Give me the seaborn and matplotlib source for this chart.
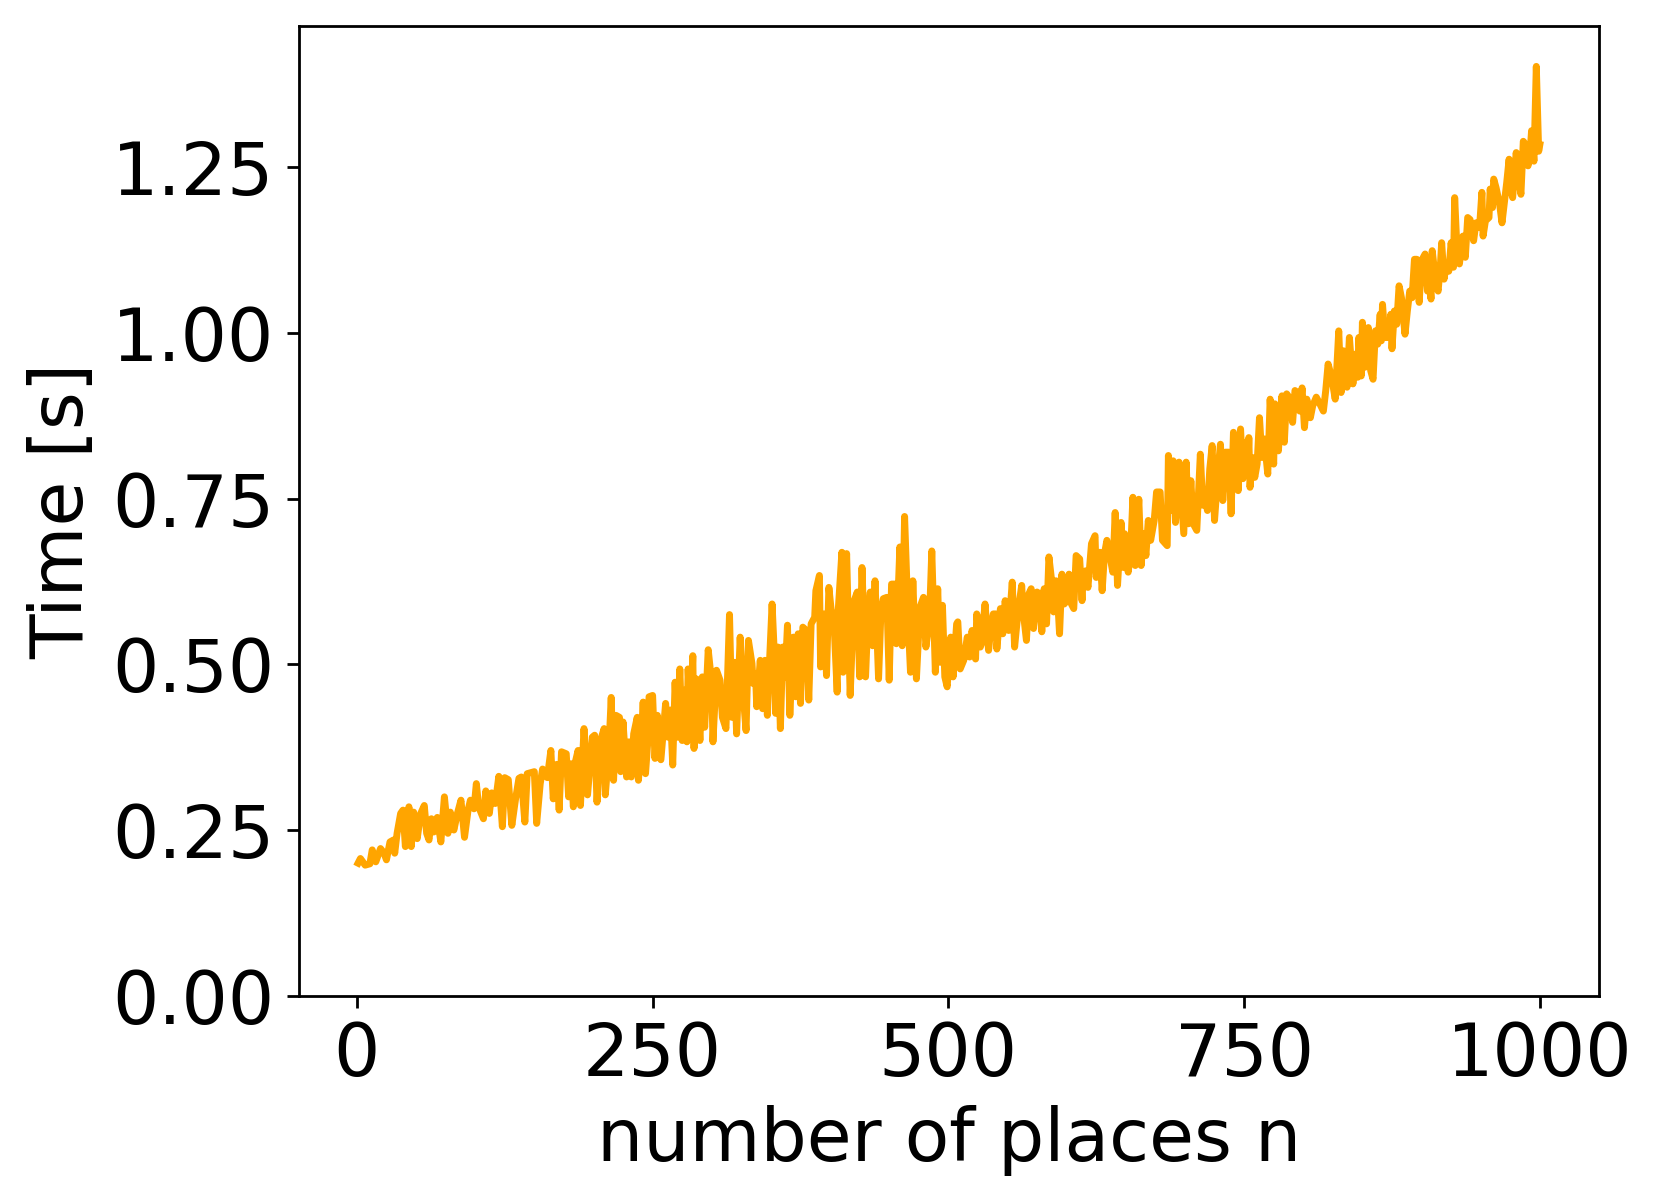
import matplotlib
matplotlib.use('Agg')
import matplotlib.pyplot as plt
import seaborn as sns
import pandas as pd

# values: number of places n and run time in seconds
n_places = [
    1, 3, 7, 11, 13, 16, 20, 23, 25, 28, 31, 32, 34, 37, 39, 41, 44, 46, 48, 51,
    54, 57, 59, 61, 63, 65, 68, 71, 74, 77, 79, 82, 85, 88, 91, 94, 96, 99, 101, 103,
    107, 109, 112, 114, 117, 120, 123, 125, 128, 131, 134, 137, 139, 142, 144, 150, 152, 155, 157, 161,
    164, 166, 169, 171, 173, 177, 179, 181, 183, 185, 187, 189, 192, 195, 199, 201, 203, 206, 209, 210,
    213, 215, 217, 219, 222, 223, 225, 228, 230, 232, 234, 237, 238, 240, 242, 244, 246, 247, 250, 252,
    254, 257, 261, 263, 265, 267, 269, 271, 273, 275, 277, 279, 280, 282, 284, 285, 287, 290, 292, 294,
    297, 300, 301, 304, 307, 309, 312, 315, 317, 319, 321, 324, 326, 329, 331, 334, 335, 337, 338, 341,
    343, 345, 347, 349, 351, 353, 354, 356, 358, 360, 362, 364, 366, 369, 371, 373, 375, 377, 380, 382,
    384, 387, 388, 391, 392, 395, 397, 399, 401, 403, 406, 407, 410, 411, 414, 417, 420, 423, 425, 427,
    430, 432, 434, 436, 438, 441, 443, 445, 448, 450, 452, 455, 456, 459, 461, 463, 466, 468, 470, 473,
    476, 479, 481, 484, 486, 489, 491, 493, 495, 497, 499, 502, 504, 507, 508, 510, 513, 516, 518, 520,
    523, 524, 527, 528, 531, 534, 536, 538, 540, 541, 544, 546, 548, 551, 554, 556, 559, 562, 563, 566,
    568, 570, 572, 575, 577, 579, 581, 583, 585, 587, 589, 591, 592, 594, 596, 598, 600, 602, 604, 606,
    608, 611, 613, 614, 616, 618, 621, 624, 625, 628, 630, 632, 634, 636, 639, 641, 643, 646, 648, 649,
    652, 654, 656, 658, 661, 663, 665, 667, 669, 671, 674, 676, 679, 681, 685, 686, 688, 690, 692, 695,
    697, 699, 701, 703, 705, 707, 710, 713, 715, 717, 719, 721, 723, 725, 728, 730, 732, 734, 737, 739,
    741, 743, 745, 747, 749, 751, 753, 754, 755, 757, 759, 761, 763, 765, 767, 770, 772, 775, 776, 779,
    782, 784, 786, 788, 791, 793, 795, 797, 799, 801, 803, 806, 808, 811, 814, 817, 819, 821, 824, 827,
    830, 832, 834, 837, 839, 842, 844, 846, 847, 849, 850, 852, 855, 857, 859, 861, 863, 865, 866, 867,
    869, 872, 874, 875, 877, 879, 881, 883, 886, 888, 890, 892, 894, 896, 898, 900, 903, 905, 906, 908,
    909, 912, 914, 916, 917, 919, 921, 923, 925, 927, 928, 930, 932, 935, 937, 939, 941, 944, 946, 949,
    951, 952, 954, 957, 958, 960, 961, 963, 966, 968, 970, 972, 974, 975, 977, 980, 982, 984, 986, 988,
    990, 992, 993, 995, 997, 999, 1000,
]

time_s = [
    0.200, 0.207, 0.197, 0.199, 0.220, 0.202, 0.222, 0.215, 0.205, 0.232, 0.235, 0.215, 0.245, 0.275, 0.280, 0.225, 0.285, 0.225, 0.277, 0.237,
    0.275, 0.287, 0.245, 0.235, 0.267, 0.247, 0.269, 0.232, 0.300, 0.245, 0.277, 0.250, 0.275, 0.295, 0.239, 0.280, 0.295, 0.282, 0.320, 0.285,
    0.267, 0.309, 0.275, 0.306, 0.290, 0.331, 0.255, 0.329, 0.326, 0.257, 0.295, 0.328, 0.330, 0.262, 0.335, 0.338, 0.260, 0.320, 0.342, 0.329,
    0.370, 0.297, 0.349, 0.280, 0.368, 0.365, 0.300, 0.350, 0.285, 0.355, 0.370, 0.287, 0.403, 0.303, 0.390, 0.393, 0.292, 0.385, 0.403, 0.303,
    0.370, 0.450, 0.325, 0.423, 0.420, 0.338, 0.413, 0.330, 0.383, 0.330, 0.395, 0.420, 0.325, 0.370, 0.443, 0.335, 0.385, 0.451, 0.453, 0.358,
    0.423, 0.356, 0.441, 0.390, 0.431, 0.348, 0.473, 0.390, 0.493, 0.385, 0.461, 0.383, 0.493, 0.420, 0.513, 0.373, 0.478, 0.385, 0.481, 0.405,
    0.522, 0.471, 0.383, 0.491, 0.476, 0.420, 0.403, 0.575, 0.420, 0.503, 0.395, 0.541, 0.466, 0.400, 0.536, 0.501, 0.471, 0.486, 0.436, 0.506,
    0.433, 0.506, 0.423, 0.511, 0.591, 0.511, 0.426, 0.526, 0.403, 0.526, 0.481, 0.559, 0.423, 0.541, 0.451, 0.546, 0.441, 0.556, 0.551, 0.446,
    0.561, 0.571, 0.611, 0.634, 0.496, 0.576, 0.483, 0.616, 0.581, 0.576, 0.458, 0.584, 0.669, 0.488, 0.667, 0.453, 0.594, 0.609, 0.481, 0.646,
    0.481, 0.571, 0.609, 0.528, 0.626, 0.478, 0.579, 0.599, 0.601, 0.476, 0.621, 0.621, 0.531, 0.677, 0.528, 0.723, 0.566, 0.488, 0.626, 0.478,
    0.586, 0.601, 0.526, 0.566, 0.671, 0.488, 0.614, 0.503, 0.589, 0.481, 0.466, 0.541, 0.481, 0.561, 0.564, 0.493, 0.506, 0.541, 0.511, 0.551,
    0.508, 0.576, 0.526, 0.531, 0.591, 0.521, 0.556, 0.576, 0.576, 0.523, 0.584, 0.546, 0.596, 0.551, 0.624, 0.526, 0.581, 0.619, 0.584, 0.536,
    0.606, 0.614, 0.554, 0.609, 0.606, 0.549, 0.614, 0.561, 0.662, 0.631, 0.579, 0.626, 0.611, 0.546, 0.636, 0.591, 0.596, 0.636, 0.591, 0.584,
    0.664, 0.659, 0.596, 0.636, 0.641, 0.616, 0.682, 0.694, 0.631, 0.669, 0.611, 0.667, 0.687, 0.669, 0.639, 0.729, 0.619, 0.714, 0.646, 0.697,
    0.639, 0.667, 0.752, 0.649, 0.749, 0.649, 0.697, 0.664, 0.717, 0.687, 0.717, 0.760, 0.760, 0.687, 0.679, 0.815, 0.732, 0.807, 0.714, 0.805,
    0.752, 0.697, 0.805, 0.712, 0.777, 0.712, 0.702, 0.817, 0.740, 0.752, 0.732, 0.795, 0.830, 0.717, 0.792, 0.832, 0.747, 0.820, 0.820, 0.727,
    0.850, 0.812, 0.762, 0.855, 0.780, 0.835, 0.787, 0.842, 0.767, 0.812, 0.782, 0.802, 0.872, 0.812, 0.840, 0.787, 0.900, 0.802, 0.893, 0.822,
    0.905, 0.835, 0.908, 0.903, 0.865, 0.913, 0.910, 0.882, 0.917, 0.857, 0.900, 0.872, 0.890, 0.903, 0.893, 0.882, 0.913, 0.953, 0.933, 0.900,
    1.003, 0.910, 0.973, 0.918, 0.993, 0.923, 0.968, 0.933, 0.993, 0.935, 1.016, 0.948, 1.008, 0.943, 0.930, 1.003, 0.983, 1.028, 0.988, 1.043,
    0.993, 0.993, 1.028, 0.976, 1.033, 1.013, 1.071, 1.053, 0.998, 1.033, 1.063, 1.053, 1.111, 1.111, 1.046, 1.109, 1.119, 1.063, 1.093, 1.051,
    1.124, 1.078, 1.063, 1.104, 1.136, 1.081, 1.104, 1.093, 1.136, 1.099, 1.204, 1.124, 1.104, 1.146, 1.114, 1.174, 1.171, 1.139, 1.166, 1.159,
    1.212, 1.146, 1.169, 1.174, 1.217, 1.189, 1.232, 1.219, 1.194, 1.166, 1.196, 1.227, 1.262, 1.222, 1.204, 1.272, 1.234, 1.209, 1.289, 1.284,
    1.252, 1.279, 1.305, 1.259, 1.402, 1.274, 1.284,
]

df = pd.DataFrame({'n': n_places, 'time': time_s})

plt.rcParams['font.family'] = ['DejaVu Sans']
plt.rcParams['font.size'] = 21

fig = plt.figure(figsize=(1659 / 250, 1203 / 250), dpi=250)
ax = fig.add_axes([0.1802, 0.1723, 0.7836, 0.8057])

sns.lineplot(data=df, x='n', y='time', color='orange', linewidth=2, ax=ax)
ax.set_ylim(bottom=0)
ax.set_xticks([0, 250, 500, 750, 1000])
ax.set_yticks([0.0, 0.25, 0.5, 0.75, 1.0, 1.25])
ax.set_yticklabels(['0.00', '0.25', '0.50', '0.75', '1.00', '1.25'])
ax.tick_params(labelsize=21)

ax.set_xlabel('number of places n', fontsize=21)
ax.set_ylabel('Time [s]', fontsize=21)

fig.savefig('out.png', dpi=250)
